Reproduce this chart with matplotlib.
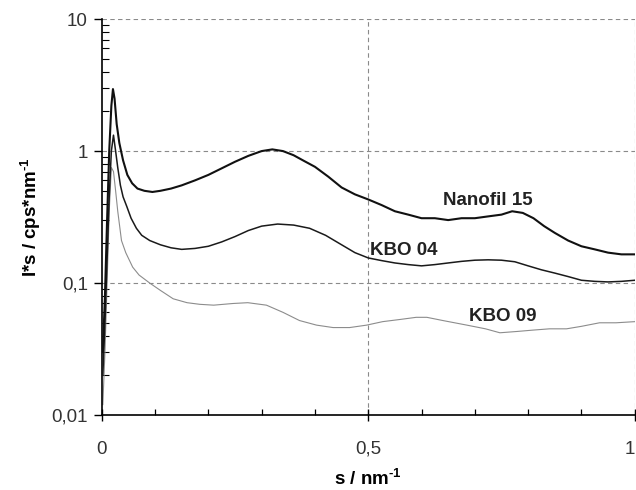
#!/usr/bin/env python3
"""SAXS-style curves I*s vs s for three clays, log y-axis."""

import matplotlib

matplotlib.use("Agg")
import matplotlib.pyplot as plt
from matplotlib.ticker import FixedLocator, LogLocator, NullFormatter

# Nanofil 15
nano_s = [0.002, 0.006, 0.010, 0.014, 0.018, 0.021, 0.024, 0.028, 0.033, 0.040,
          0.048, 0.057, 0.067, 0.080, 0.095, 0.110, 0.130, 0.150, 0.175, 0.200,
          0.225, 0.250, 0.275, 0.300, 0.320, 0.340, 0.360, 0.380, 0.400, 0.425,
          0.450, 0.475, 0.500, 0.525, 0.550, 0.575, 0.600, 0.625, 0.650, 0.675,
          0.700, 0.725, 0.750, 0.770, 0.790, 0.810, 0.830, 0.850, 0.875, 0.900,
          0.925, 0.950, 0.975, 1.000]
nano_i = [0.03, 0.08, 0.3, 1.0, 2.2, 2.95, 2.5, 1.6, 1.15, 0.85,
          0.66, 0.57, 0.52, 0.50, 0.49, 0.50, 0.52, 0.55, 0.60, 0.66,
          0.74, 0.83, 0.92, 1.0, 1.03, 1.0, 0.93, 0.84, 0.76, 0.64,
          0.53, 0.47, 0.43, 0.39, 0.35, 0.33, 0.31, 0.31, 0.30, 0.31,
          0.31, 0.32, 0.33, 0.35, 0.34, 0.31, 0.27, 0.24, 0.21, 0.19,
          0.18, 0.17, 0.165, 0.165]

# KBO 04
kbo04_s = [0.002, 0.006, 0.010, 0.014, 0.018, 0.022, 0.026, 0.030, 0.035, 0.040,
           0.047, 0.055, 0.065, 0.075, 0.090, 0.110, 0.130, 0.150, 0.175, 0.200,
           0.225, 0.250, 0.275, 0.300, 0.330, 0.360, 0.390, 0.420, 0.450, 0.475,
           0.500, 0.525, 0.550, 0.575, 0.600, 0.625, 0.650, 0.675, 0.700, 0.725,
           0.750, 0.775, 0.800, 0.825, 0.850, 0.875, 0.900, 0.925, 0.950, 0.975,
           1.000]
kbo04_i = [0.02, 0.05, 0.15, 0.45, 1.0, 1.32, 1.0, 0.75, 0.55, 0.45,
           0.38, 0.31, 0.26, 0.23, 0.21, 0.195, 0.185, 0.18, 0.183, 0.19,
           0.205, 0.225, 0.25, 0.27, 0.28, 0.275, 0.26, 0.23, 0.195, 0.17,
           0.155, 0.148, 0.142, 0.138, 0.135, 0.138, 0.142, 0.146, 0.149, 0.150,
           0.149, 0.145, 0.135, 0.126, 0.119, 0.112, 0.105, 0.103, 0.102, 0.103,
           0.105]

# KBO 09
kbo09_s = [0.002, 0.006, 0.010, 0.014, 0.018, 0.022, 0.026, 0.030, 0.037, 0.045,
           0.058, 0.070, 0.090, 0.110, 0.134, 0.160, 0.184, 0.210, 0.246, 0.274,
           0.309, 0.340, 0.371, 0.403, 0.434, 0.465, 0.497, 0.527, 0.560, 0.590,
           0.610, 0.640, 0.685, 0.720, 0.747, 0.780, 0.809, 0.840, 0.872, 0.900,
           0.934, 0.965, 1.000]
kbo09_i = [0.012, 0.03, 0.1, 0.35, 0.75, 0.7, 0.5, 0.35, 0.21, 0.17,
           0.132, 0.115, 0.1, 0.088, 0.076, 0.071, 0.069, 0.068, 0.07, 0.071,
           0.068, 0.060, 0.052, 0.048, 0.046, 0.046, 0.048, 0.051, 0.053, 0.055,
           0.055, 0.052, 0.048, 0.045, 0.042, 0.043, 0.044, 0.045, 0.045, 0.047,
           0.050, 0.050, 0.051]

x_ticks = [0, 0.5, 1]
x_tick_labels = ["0", "0,5", "1"]
y_ticks = [0.01, 0.1, 1, 10]
y_tick_labels = ["0,01", "0,1", "1", "10"]

plt.rcParams.update(
    {
        "font.family": ["Liberation Sans", "DejaVu Sans"],
        "font.size": 13.5,
        "mathtext.fontset": "custom",
        "mathtext.rm": "Liberation Sans:bold",
        "mathtext.bf": "Liberation Sans:bold",
        "mathtext.default": "bf",
    }
)

fig = plt.figure(figsize=(6.36, 4.9), dpi=100)
ax = fig.add_axes([0.160, 0.153, 0.838, 0.808])

grid_kw = dict(color="#8a8a8a", linewidth=0.8, dashes=(4, 3), zorder=0)
for yv in [0.1, 1, 10]:
    ax.axhline(yv, **grid_kw)
for xv in [0.5, 1.0]:
    ax.axvline(xv, **grid_kw)

ax.plot(kbo09_s, kbo09_i, color="#8c8c8c", linewidth=0.8, zorder=2)
ax.plot(kbo04_s, kbo04_i, color="#1a1a1a", linewidth=1.1, zorder=3)
ax.plot(nano_s, nano_i, color="#111111", linewidth=1.5, zorder=4)

label_kw = dict(ha="center", va="center", fontsize=13.5, weight="bold", color="#222222")
ax.text(0.724, 0.42, "Nanofil 15", **label_kw)
ax.text(0.567, 0.178, "KBO 04", **label_kw)
ax.text(0.752, 0.056, "KBO 09", **label_kw)

ax.set_yscale("log")
ax.set_xlim(0, 1)
ax.set_ylim(0.01, 10)

ax.set_xticks(x_ticks)
ax.set_xticklabels(x_tick_labels)
ax.get_xticklabels()[-1].set_horizontalalignment("right")
ax.xaxis.set_minor_locator(FixedLocator([0.1, 0.2, 0.3, 0.4, 0.6, 0.7, 0.8, 0.9]))
ax.set_yticks(y_ticks)
ax.set_yticklabels(y_tick_labels)
ax.yaxis.set_minor_locator(LogLocator(base=10, subs=range(2, 10)))
ax.yaxis.set_minor_formatter(NullFormatter())

ax.tick_params(axis="x", which="major", direction="inout", length=9, width=1.0, pad=14, labelcolor="#333333")
ax.tick_params(axis="x", which="minor", direction="in", length=4, width=0.9)
ax.tick_params(axis="y", which="major", direction="out", length=6, width=1.0, pad=4, labelcolor="#333333")
ax.tick_params(axis="y", which="minor", direction="in", length=5, width=0.8)

for side in ["top", "right"]:
    ax.spines[side].set_visible(False)
for side in ["left", "bottom"]:
    ax.spines[side].set_linewidth(1.2)

ax.set_xlabel(r"s / nm$^{\text{-1}}$", fontsize=13.5, weight="bold", labelpad=8)
ax.set_ylabel(r"I*s / cps*nm$^{\text{-1}}$", fontsize=13.5, weight="bold", labelpad=6)

fig.savefig("out.png", dpi=100, facecolor="white")
